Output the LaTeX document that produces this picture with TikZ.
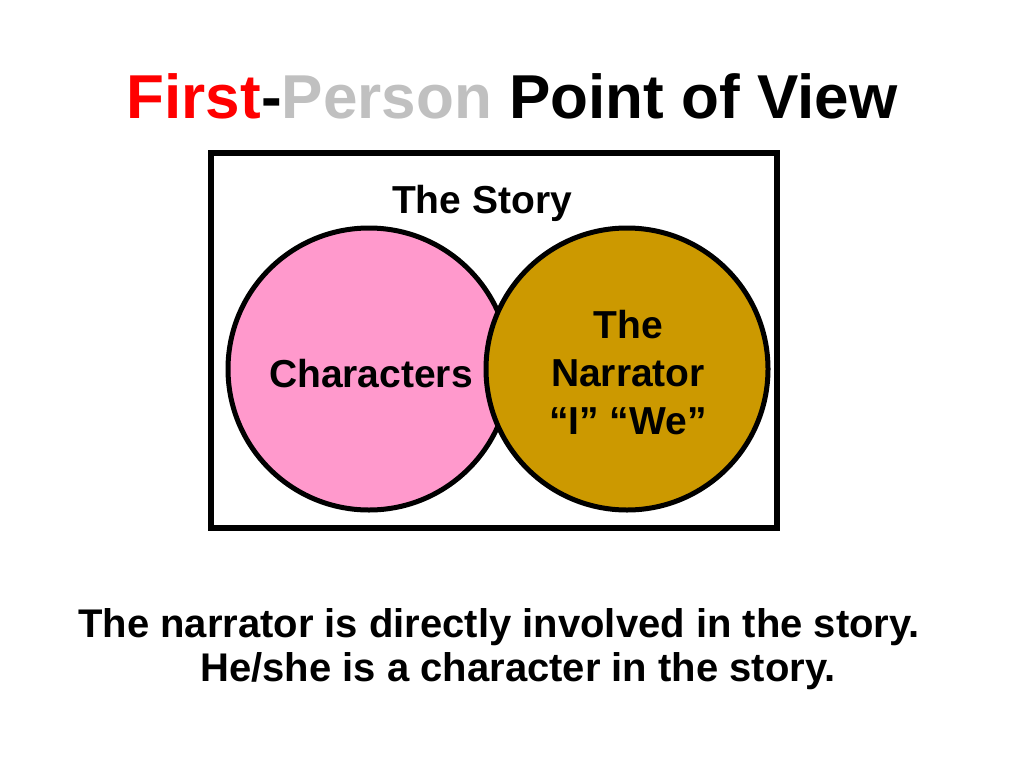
\documentclass[tikz,border=0pt]{standalone}
\usepackage{fontspec}
\setmainfont{Liberation Sans}
\definecolor{titlered}{HTML}{FF0000}
\definecolor{titlegray}{HTML}{C0C0C0}
\definecolor{charpink}{HTML}{FF99CC}
\definecolor{narrgold}{HTML}{CC9900}
\tikzset{
  bodytext/.style={font=\bfseries\fontsize{39}{48}\selectfont, inner sep=0pt, anchor=base},
  bottomtext/.style={font=\bfseries\fontsize{40}{48}\selectfont, inner sep=0pt, anchor=base},
  vennring/.style={draw=black, line width=5pt},
}
\begin{document}
\begin{tikzpicture}[x=1pt,y=-1pt]
\useasboundingbox (0,0) rectangle (1024,768);
\fill[white] (0,0) rectangle (1024,768);
% title
\node[inner sep=0pt, anchor=base, font=\bfseries\fontsize{62}{70}\selectfont] (title) at (512,118)
  {\textcolor{titlered}{First}-\textcolor{titlegray}{Person} Point of View};
% story frame
\draw[line width=6pt] (211,153) rectangle (777,528);
\node[bodytext] (story) at (482,213) {The Story};
% circles
\node[vennring, fill=charpink, circle, minimum size=282pt, inner sep=0pt] (chars) at (369,369) {};
\node[vennring, fill=narrgold, circle, minimum size=282pt, inner sep=0pt] (narr) at (627,369) {};
\node[bodytext] (charlabel) at (371,387) {Characters};
\node[bodytext] (n1) at (628,338) {The};
\node[bodytext] (n2) at (628,386) {Narrator};
\node[bodytext] (n3) at (628,434) {“I” “We”};
% bottom text
\node[bottomtext] (b1) at (499,637) {The narrator is directly involved in the story.};
\node[bottomtext] (b2) at (518,681) {He/she is a character in the story.};
\end{tikzpicture}
\end{document}
